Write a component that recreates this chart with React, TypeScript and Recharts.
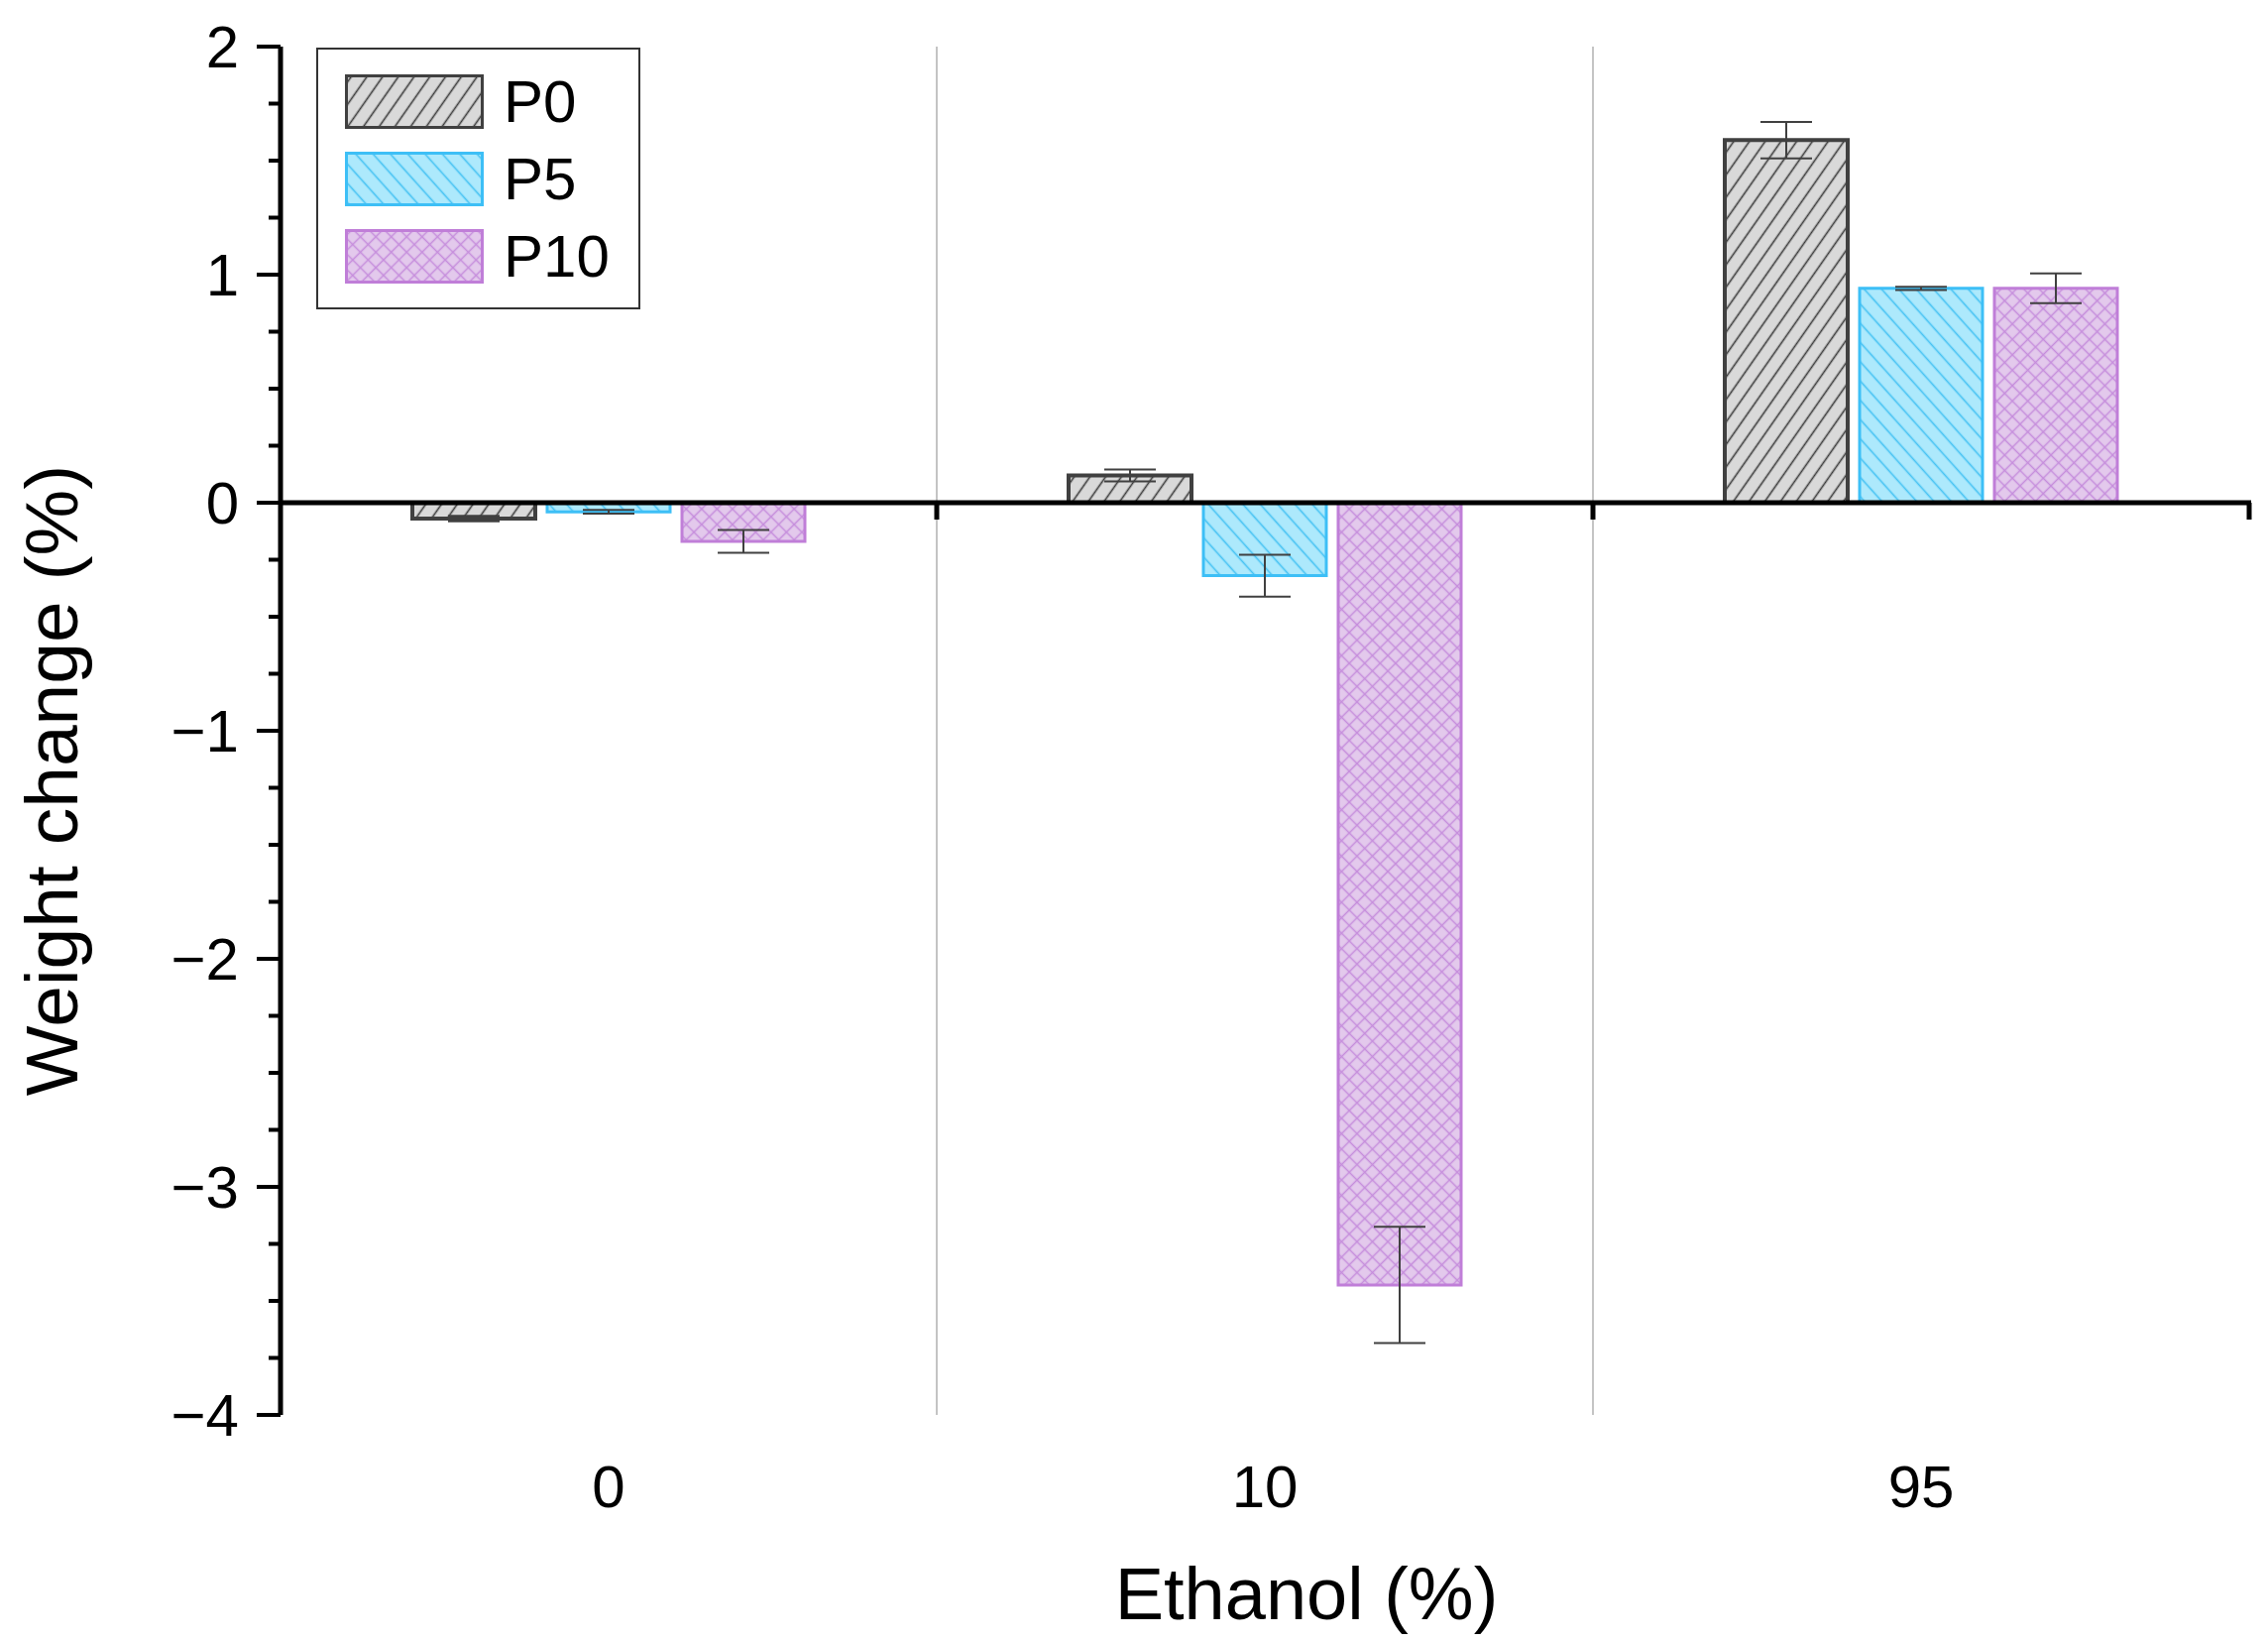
import { BarChart, Bar, XAxis, YAxis, CartesianGrid, ErrorBar, ReferenceLine, Legend, Label } from 'recharts';

const FONT = '"Liberation Sans", Arial, sans-serif';

const ethanol = ['0', '10', '95'];
const p0 = [-0.07, 0.12, 1.59];
const p0Err = [0.012, 0.026, 0.08];
const p5 = [-0.04, -0.32, 0.94];
const p5Err = [0.008, 0.092, 0.007];
const p10 = [-0.17, -3.43, 0.94];
const p10Err = [0.05, 0.255, 0.065];

const yTicks = [
  -4, -3.75, -3.5, -3.25, -3, -2.75, -2.5, -2.25, -2, -1.75, -1.5, -1.25, -1,
  -0.75, -0.5, -0.25, 0, 0.25, 0.5, 0.75, 1, 1.25, 1.5, 1.75, 2,
];

const data = ethanol.map((name, i) => ({
  name,
  P0: p0[i],
  P0err: p0Err[i],
  P5: p5[i],
  P5err: p5Err[i],
  P10: p10[i],
  P10err: p10Err[i],
}));

const series = [
  { key: 'P0', fill: 'url(#pat-p0)', stroke: '#404040', strokeWidth: 4 },
  { key: 'P5', fill: 'url(#pat-p5)', stroke: '#3dbff6', strokeWidth: 3 },
  { key: 'P10', fill: 'url(#pat-p10)', stroke: '#c07ed8', strokeWidth: 3 },
];

const Patterns = () => (
  <svg width={0} height={0} style={{ position: 'absolute' }}>
    <defs>
      <pattern id="pat-p0" patternUnits="userSpaceOnUse" width={13} height={13} patternTransform="rotate(35)">
        <rect width={13} height={13} fill="#d9d9d9" />
        <line x1={6.5} y1={0} x2={6.5} y2={13} stroke="#3a3a3a" strokeWidth={1.6} />
      </pattern>
      <pattern id="pat-p5" patternUnits="userSpaceOnUse" width={13} height={13} patternTransform="rotate(-42)">
        <rect width={13} height={13} fill="#ade9fc" />
        <line x1={6.5} y1={0} x2={6.5} y2={13} stroke="#45c2f3" strokeWidth={1.6} />
      </pattern>
      <pattern id="pat-p10" patternUnits="userSpaceOnUse" width={11} height={11} patternTransform="rotate(45)">
        <rect width={11} height={11} fill="#e3c9ec" />
        <line x1={5.5} y1={0} x2={5.5} y2={11} stroke="#c68ddc" strokeWidth={1.5} />
        <line x1={0} y1={5.5} x2={11} y2={5.5} stroke="#c68ddc" strokeWidth={1.5} />
      </pattern>
    </defs>
  </svg>
);

const fmt = (v: number) => (v < 0 ? `\u2212${Math.abs(v)}` : `${v}`);

const YTick = (props: any) => {
  const { x, y, payload } = props;
  const major = Number.isInteger(payload.value);
  return (
    <g>
      <line x1={x - (major ? 24 : 12)} x2={x} y1={y} y2={y} stroke="#000" strokeWidth={4} />
      {major && (
        <text x={x - 42} y={y} textAnchor="end" dominantBaseline="central" fontSize={60} fontFamily={FONT} fill="#000">
          {fmt(payload.value)}
        </text>
      )}
    </g>
  );
};

// zero line doubles as the x axis, with small ticks at the category borders
const ZeroAxis = (props: any) => {
  const { x1, y1, x2 } = props;
  const step = (x2 - x1) / ethanol.length;
  return (
    <g>
      <line x1={x1} x2={x2 + 2} y1={y1} y2={y1} stroke="#000" strokeWidth={5} />
      {ethanol.map((_, i) => (
        <line key={i} x1={x1 + step * (i + 1)} x2={x1 + step * (i + 1)} y1={y1} y2={y1 + 17} stroke="#000" strokeWidth={5} />
      ))}
    </g>
  );
};

const renderLegend = (props: any) => {
  const { payload = [] } = props;
  return (
    <div
      style={{
        width: 327,
        height: 264,
        boxSizing: 'border-box',
        border: '2px solid #333',
        background: '#fff',
        paddingTop: 26,
        paddingLeft: 27,
        fontFamily: FONT,
      }}
    >
      {series.map((s) => {
        const entry = payload.find((p: any) => p.dataKey === s.key);
        return (
          <div key={s.key} style={{ display: 'flex', alignItems: 'center', height: 53, marginBottom: 25 }}>
            <svg width={140} height={55} style={{ display: 'block' }}>
              <rect x={1.5} y={1.5} width={137} height={52} fill={s.fill} stroke={s.stroke} strokeWidth={3} />
            </svg>
            <span style={{ fontSize: 60, color: '#000', marginLeft: 20, lineHeight: 1 }}>
              {entry ? entry.value : s.key}
            </span>
          </div>
        );
      })}
    </div>
  );
};

const App = () => {
  return (
    <div style={{ position: 'absolute', left: 0, top: 0, width: 2288, height: 1655, background: '#fff' }}>
      <Patterns />
      <BarChart
        width={2288}
        height={1655}
        data={data}
        margin={{ top: 47, right: 19, left: 0, bottom: 0 }}
        barSize={124}
        barGap={12}
      >
        <CartesianGrid
          horizontal={false}
          stroke="#c4c4c4"
          strokeWidth={2}
          verticalCoordinatesGenerator={({ offset }: any) =>
            ethanol.slice(1).map((_, i) => offset.left + (offset.width * (i + 1)) / ethanol.length)
          }
        />
        <XAxis
          dataKey="name"
          axisLine={false}
          tickLine={false}
          tickSize={0}
          tickMargin={50}
          height={228}
          interval={0}
          tick={{ fontSize: 60, fill: '#000', fontFamily: FONT }}
        >
          <Label
            content={({ viewBox }: any) => (
              <text
                x={viewBox.x + viewBox.width / 2 + 42}
                y={viewBox.y + viewBox.height - 22}
                textAnchor="middle"
                fontSize={74}
                fontFamily={FONT}
                fill="#000"
              >
                Ethanol (%)
              </text>
            )}
          />
        </XAxis>
        <YAxis
          type="number"
          domain={[-4, 2]}
          ticks={yTicks}
          interval={0}
          width={283}
          axisLine={{ stroke: '#000', strokeWidth: 5 }}
          tickLine={false}
          tickSize={0}
          tickMargin={0}
          tick={<YTick />}
        >
          <Label
            content={({ viewBox }: any) => {
              const cy = viewBox.y + viewBox.height / 2 + 50;
              return (
                <text
                  x={52}
                  y={cy}
                  transform={`rotate(-90, 52, ${cy})`}
                  textAnchor="middle"
                  dominantBaseline="central"
                  fontSize={75}
                  fontFamily={FONT}
                  fill="#000"
                >
                  Weight change (%)
                </text>
              );
            }}
          />
        </YAxis>
        <Legend
          layout="horizontal"
          verticalAlign="middle"
          align="center"
          wrapperStyle={{ left: 319, top: 48, width: 'auto', height: 'auto' }}
          content={renderLegend}
        />
        {series.map((s) => (
          <Bar
            key={s.key}
            dataKey={s.key}
            name={s.key}
            fill={s.fill}
            stroke={s.stroke}
            strokeWidth={s.strokeWidth}
            isAnimationActive={false}
          >
            <ErrorBar
              dataKey={`${s.key}err`}
              width={26}
              stroke="#404040"
              strokeWidth={2}
              direction="y"
              isAnimationActive={false}
            />
          </Bar>
        ))}
        <ReferenceLine y={0} shape={<ZeroAxis />} />
      </BarChart>
    </div>
  );
};

export default App;
